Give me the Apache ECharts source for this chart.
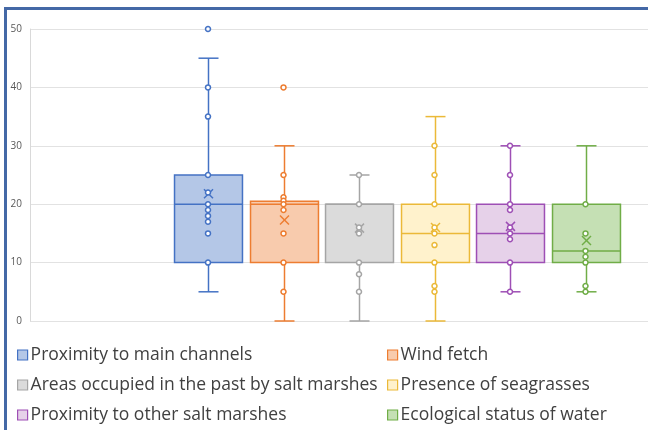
<!DOCTYPE html>
<html>
<head>
<meta charset="utf-8">
<script src="https://cdn.jsdelivr.net/npm/echarts@6/dist/echarts.min.js"></script>
<style>
  html, body { margin: 0; padding: 0; background: #fff; }
  #frame {
    position: absolute; left: 4px; top: 7px; width: 660px; height: 420px;
    border-left: 3px solid #4468A6; border-top: 3px solid #4468A6;
    border-bottom: 1px solid #B7C8E2;
  }
  #chart { position: absolute; left: 0; top: 0; width: 648px; height: 430px; }
</style>
</head>
<body>
<div id="frame"></div>
<div id="chart"></div>
<script>
// series names (one box per series)
const seriesNames = [
  'Proximity to main channels',
  'Wind fetch',
  'Areas occupied in the past by salt marshes',
  'Presence of seagrasses',
  'Proximity to other salt marshes',
  'Ecological status of water'
];
// box statistics
const whiskerLow  = [5, 0, 0, 0, 5, 5];
const quartile1   = [10, 10, 10, 10, 10, 10];
const medians     = [20, 20, 20, 15, 15, 12];
const quartile3   = [25, 20.5, 20, 20, 20, 20];
const whiskerHigh = [45, 30, 25, 35, 30, 30];
const means       = [21.8, 17.3, 15.9, 16.0, 16.2, 13.8];
// shown points (inner points and outliers)
const pointsMain     = [50, 40, 35, 25, 22, 20, 19, 18, 17, 15, 10];
const pointsWind     = [40, 25, 21.2, 20.6, 20, 19, 15, 10, 5];
const pointsPast     = [25, 20, 16, 15, 10, 8, 5];
const pointsSeagrass = [30, 25, 20, 16, 15, 13, 10, 6, 5];
const pointsOther    = [30, 25, 20, 19, 16, 15, 14, 10, 5];
const pointsWater    = [20, 15, 12, 11, 10, 6, 5];
const pointLists = [pointsMain, pointsWind, pointsPast, pointsSeagrass, pointsOther, pointsWater];
const yTicks = [0, 10, 20, 30, 40, 50];

const strokeColors = ['#4472C4', '#ED7D31', '#A5A5A5', '#EBB938', '#9E4FB5', '#70AD47'];
const fillColors   = ['#B4C7E7', '#F8CBAD', '#DBDBDB', '#FFF2CC', '#E6D1E9', '#C5E0B4'];

const FONT = '"Open Sans", "Noto Sans", sans-serif';

function renderBox(params, api) {
  const i = api.value(0);
  const lo = api.coord([i, api.value(1)]);
  const b1 = api.coord([i, api.value(2)]);
  const md = api.coord([i, api.value(3)]);
  const b3 = api.coord([i, api.value(4)]);
  const hi = api.coord([i, api.value(5)]);
  const mn = api.coord([i, api.value(6)]);
  const w = api.size([1, 0])[0] * 0.9;
  const cx = Math.round(lo[0]) + 0.5;
  const cap = 10;
  const m = 4.5;
  const color = strokeColors[i];
  const line = { stroke: color, lineWidth: 1.5, fill: null };
  return {
    type: 'group',
    children: [
      { type: 'line', shape: { x1: cx, y1: lo[1], x2: cx, y2: b1[1] }, style: line },
      { type: 'line', shape: { x1: cx, y1: b3[1], x2: cx, y2: hi[1] }, style: line },
      { type: 'line', shape: { x1: cx - cap, y1: lo[1], x2: cx + cap, y2: lo[1] }, style: line },
      { type: 'line', shape: { x1: cx - cap, y1: hi[1], x2: cx + cap, y2: hi[1] }, style: line },
      { type: 'rect', shape: { x: cx - w / 2, y: b3[1], width: w, height: b1[1] - b3[1] },
        style: { fill: fillColors[i], stroke: color, lineWidth: 1.5 } },
      { type: 'line', shape: { x1: cx - w / 2, y1: md[1], x2: cx + w / 2, y2: md[1] }, style: line },
      { type: 'line', shape: { x1: cx - m, y1: mn[1] - m, x2: cx + m, y2: mn[1] + m }, style: line },
      { type: 'line', shape: { x1: cx - m, y1: mn[1] + m, x2: cx + m, y2: mn[1] - m }, style: line }
    ]
  };
}

const series = [];
seriesNames.forEach((name, i) => {
  series.push({
    name: name,
    type: 'custom',
    xAxisIndex: 1,
    yAxisIndex: 1,
    renderItem: renderBox,
    encode: { x: 0, y: [1, 2, 3, 4, 5, 6] },
    data: [[i, whiskerLow[i], quartile1[i], medians[i], quartile3[i], whiskerHigh[i], means[i]]],
    z: 2
  });
  series.push({
    name: name,
    type: 'scatter',
    xAxisIndex: 1,
    yAxisIndex: 1,
    symbol: 'circle',
    symbolSize: 5,
    itemStyle: { color: '#fff', borderColor: strokeColors[i], borderWidth: 1.5, opacity: 1 },
    data: pointLists[i].map(v => [i, v]),
    z: 3,
    silent: true
  });
});

function legendItems(idx) {
  return idx.map(i => ({
    name: seriesNames[i],
    icon: 'rect',
    itemStyle: { color: fillColors[i], borderColor: strokeColors[i], borderWidth: 1.2 }
  }));
}

const legendBase = {
  orient: 'vertical',
  top: 346,
  padding: 0,
  itemWidth: 10,
  itemHeight: 10,
  itemGap: 12,
  selectedMode: false,
  textStyle: { fontFamily: FONT, fontSize: 17.5, color: '#404040', padding: [0, 0, 0, -2] }
};

const chart = echarts.init(document.getElementById('chart'), null, { renderer: 'canvas' });
chart.setOption({
  animation: false,
  grid: [
    { left: 30, right: 0, top: 29, bottom: 109 },
    { left: 170.25, width: 453, top: 29, bottom: 109 }
  ],
  xAxis: [
    { gridIndex: 0, type: 'category', data: [''], show: false },
    { gridIndex: 1, type: 'category', data: seriesNames, show: false }
  ],
  yAxis: [
    {
      gridIndex: 0, type: 'value', min: yTicks[0], max: yTicks[yTicks.length - 1], interval: 10,
      axisLine: { show: true, lineStyle: { color: '#D9D9D9', width: 1 } },
      axisTick: { show: false },
      axisLabel: { fontFamily: FONT, fontSize: 10, color: '#595959', margin: 8 },
      splitLine: { lineStyle: { color: '#E2E2E2', width: 1 } }
    },
    {
      gridIndex: 1, type: 'value', min: yTicks[0], max: yTicks[yTicks.length - 1], interval: 10,
      show: false, splitLine: { show: false }
    }
  ],
  legend: [
    Object.assign({}, legendBase, { left: 17, data: legendItems([0, 2, 4]) }),
    Object.assign({}, legendBase, { left: 387, data: legendItems([1, 3, 5]) })
  ],
  series: series
});
</script>
</body>
</html>
